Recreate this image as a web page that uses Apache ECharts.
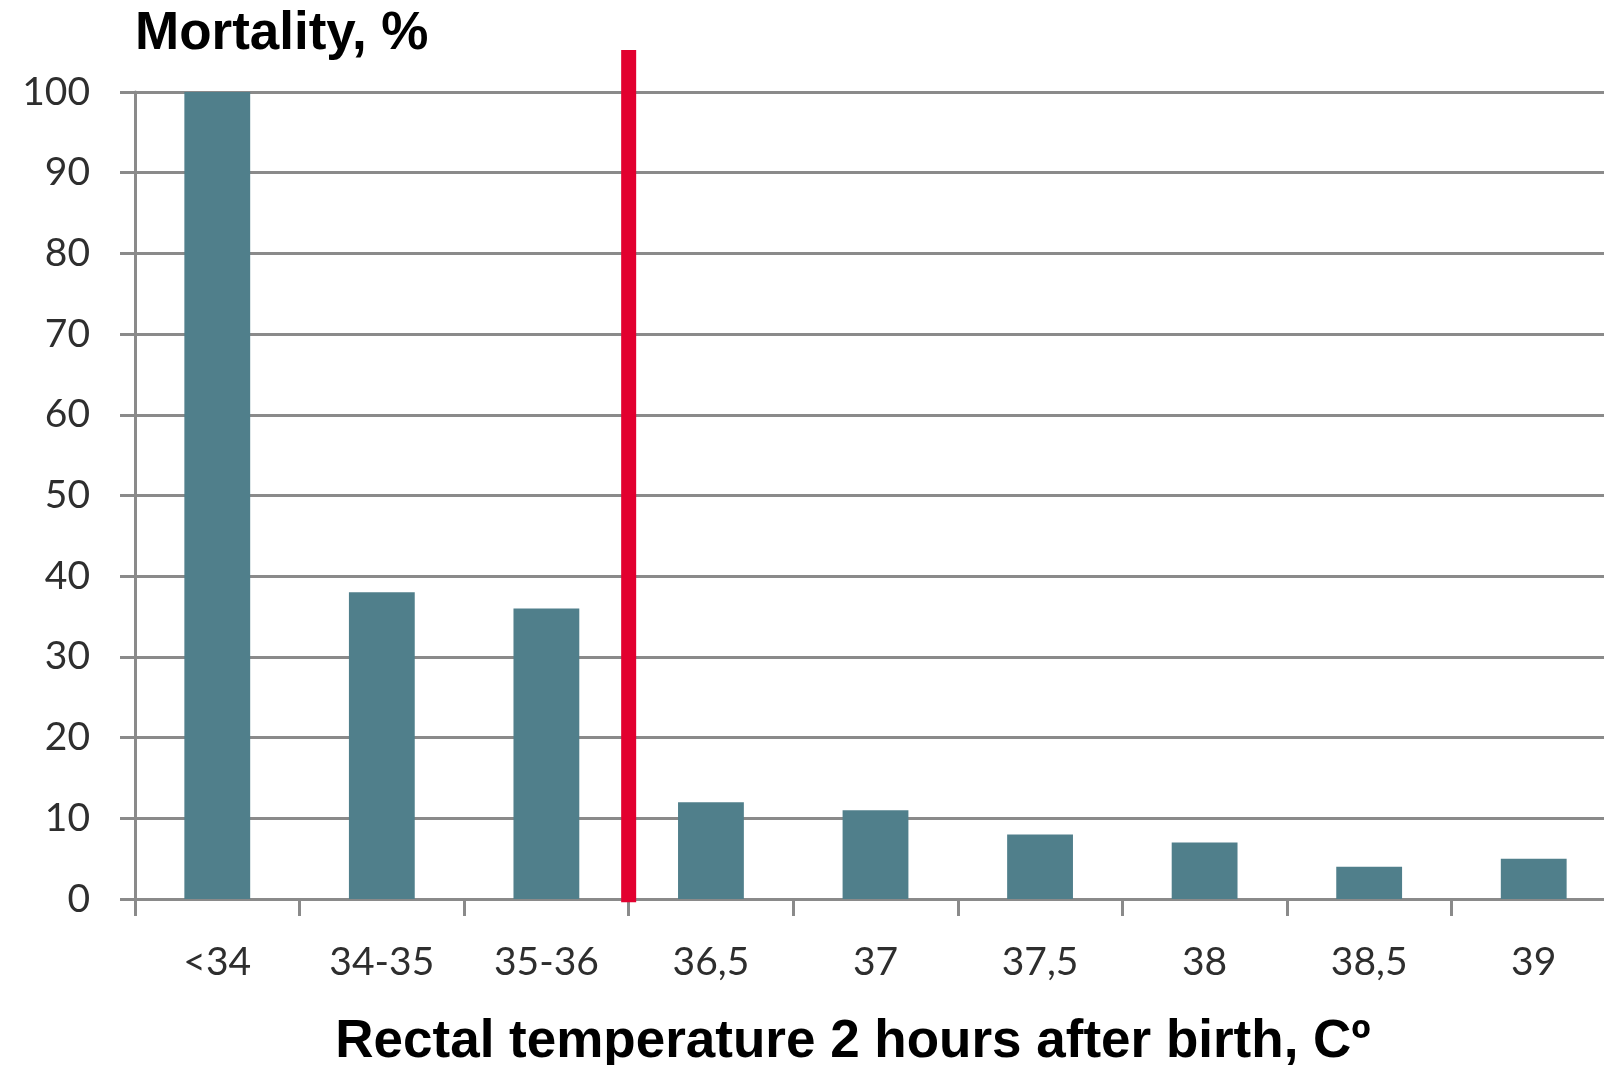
<!DOCTYPE html>
<html>
<head>
<meta charset="utf-8">
<script src="https://cdn.jsdelivr.net/npm/echarts@6/dist/echarts.min.js"></script>
<style>
html,body{margin:0;padding:0;background:#fff;}
#chart{width:1604px;height:1065px;}
</style>
</head>
<body>
<div id="chart"></div>
<script>
const categories = ['<34', '34-35', '35-36', '36,5', '37', '37,5', '38', '38,5', '39'];
const mortality = [100, 38, 36, 12, 11, 8, 7, 4, 5];
const yTicks = [0, 10, 20, 30, 40, 50, 60, 70, 80, 90, 100];
const thresholdBoundary = 3;          // boundary between '35-36' and '36,5'
const thresholdSpan = [-0.4, 105.2];  // vertical extent of the red threshold line (in % units)
const yTitle = 'Mortality, %';
const xTitle = 'Rectal temperature 2 hours after birth, Cº';

const gray = '#8a8a8a';
const labelFont = 'Lato';
const chart = echarts.init(document.getElementById('chart'), null, {renderer: 'canvas'});
chart.setOption({
  animation: false,
  backgroundColor: '#ffffff',
  title: [
    {text: yTitle, left: 130, top: 3,
     textStyle: {fontFamily: 'Liberation Sans', fontWeight: 'bold', fontSize: 53, color: '#000'}},
    {text: xTitle, left: 848, top: 1011, textAlign: 'center',
     textStyle: {fontFamily: 'Liberation Sans', fontWeight: 'bold', fontSize: 53, color: '#000'}}
  ],
  grid: {left: 135, top: 92, width: 1481, height: 807, containLabel: false, outerBoundsMode: 'none'},
  xAxis: [
    {type: 'category', data: categories, boundaryGap: true,
     axisLine: {show: true, lineStyle: {color: gray, width: 3}},
     axisTick: {show: true, length: 17, alignWithLabel: false, lineStyle: {color: gray, width: 3}},
     axisLabel: {margin: 44, fontFamily: labelFont, fontSize: 39, color: '#2e2e2e', interval: 0}},
    {type: 'value', min: 0, max: categories.length, show: false}
  ],
  yAxis: {
    type: 'value', min: yTicks[0], max: yTicks[yTicks.length - 1], interval: yTicks[1] - yTicks[0],
    axisLine: {show: true, lineStyle: {color: gray, width: 3}},
    axisTick: {show: true, length: 15, lineStyle: {color: gray, width: 3}},
    splitLine: {show: true, lineStyle: {color: gray, width: 3}},
    axisLabel: {margin: 45, fontFamily: labelFont, fontSize: 39, color: '#2e2e2e'}
  },
  series: [
    {type: 'bar', xAxisIndex: 0, data: mortality, barWidth: '40%',
     itemStyle: {color: '#507F8B'}, z: 3},
    {type: 'line', xAxisIndex: 1, yAxisIndex: 0, clip: false, symbol: 'none', z: 5,
     data: thresholdSpan.map(v => [thresholdBoundary, v]),
     lineStyle: {color: '#E2002F', width: 15, cap: 'butt'}}
  ]
});
</script>
</body>
</html>
